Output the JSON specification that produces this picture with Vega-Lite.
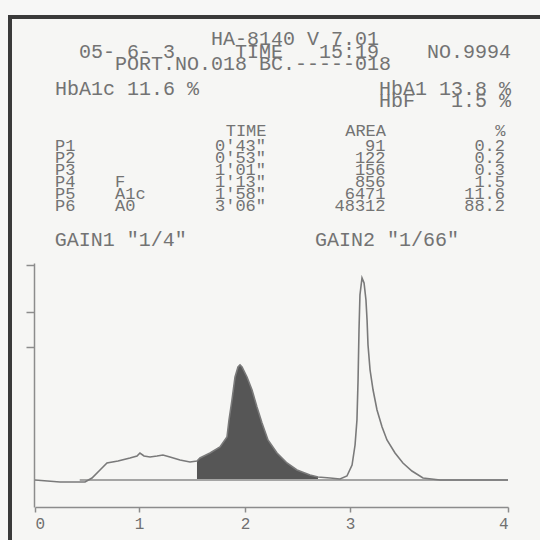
{
  "$schema": "https://vega.github.io/schema/vega-lite/v6.json",
  "width": 540,
  "height": 540,
  "autosize": {"type": "none"},
  "padding": {"left": 10, "top": 17, "right": 0, "bottom": 0},
  "background": "#f7f7f6",
  "config": {
    "view": {"stroke": "#3a3a3a", "strokeWidth": 4, "fill": "#f6f6f4"},
    "font": "Liberation Mono"
  },
  "title": {
    "text": [
      "\u200b\u00a0\u00a0\u00a0\u00a0\u00a0\u00a0\u00a0\u00a0\u00a0\u00a0\u00a0\u00a0\u00a0HA-8140 V 7.01\u00a0\u00a0\u00a0\u00a0\u00a0\u00a0\u00a0\u00a0\u00a0\u00a0\u00a0\u00a0\u200b",
      "\u200b\u00a0\u00a005- 6- 3\u00a0\u00a0\u00a0\u00a0\u00a0TIME\u00a0\u00a0\u00a015:19\u00a0\u00a0\u00a0\u00a0NO.9994\u00a0\u200b",
      "\u200b\u00a0\u00a0\u00a0\u00a0\u00a0PORT.NO.018 BC.-----018\u00a0\u00a0\u00a0\u00a0\u00a0\u00a0\u00a0\u00a0\u00a0\u00a0\u00a0\u200b"
    ],
    "subtitle": [
      "\u200bHbA1c 11.6 %\u00a0\u00a0\u00a0\u00a0\u00a0\u00a0\u00a0\u00a0\u00a0\u00a0\u00a0\u00a0\u00a0\u00a0\u00a0HbA1 13.8 %\u00a0\u200b",
      "\u200b\u00a0\u00a0\u00a0\u00a0\u00a0\u00a0\u00a0\u00a0\u00a0\u00a0\u00a0\u00a0\u00a0\u00a0\u00a0\u00a0\u00a0\u00a0\u00a0\u00a0\u00a0\u00a0\u00a0\u00a0\u00a0\u00a0\u00a0HbF\u00a0\u00a0\u00a01.5 %\u00a0\u200b"
    ],
    "anchor": "middle",
    "frame": "group",
    "dx": 9,
    "offset": -94,
    "font": "Liberation Mono",
    "fontSize": 20,
    "fontWeight": "normal",
    "color": "#737373",
    "lineHeight": 12.5,
    "subtitleFont": "Liberation Mono",
    "subtitleFontSize": 20,
    "subtitleColor": "#737373",
    "subtitleLineHeight": 12,
    "subtitlePadding": 5
  },
  "datasets": {
    "trace": [
      {"t": 0, "u": 27}, {"t": 0.24, "u": 25}, {"t": 0.481, "u": 25}, {"t": 0.548, "u": 29},
      {"t": 0.625, "u": 37}, {"t": 0.692, "u": 44}, {"t": 0.798, "u": 46}, {"t": 0.913, "u": 49},
      {"t": 0.981, "u": 51}, {"t": 1.009, "u": 54}, {"t": 1.047, "u": 51}, {"t": 1.104, "u": 50},
      {"t": 1.17, "u": 51}, {"t": 1.226, "u": 52}, {"t": 1.292, "u": 50}, {"t": 1.387, "u": 47},
      {"t": 1.481, "u": 45}, {"t": 1.547, "u": 46}, {"t": 1.575, "u": 49}, {"t": 1.67, "u": 54},
      {"t": 1.764, "u": 60}, {"t": 1.83, "u": 70}, {"t": 1.849, "u": 87}, {"t": 1.877, "u": 107},
      {"t": 1.906, "u": 130}, {"t": 1.934, "u": 140}, {"t": 1.953, "u": 142}, {"t": 1.972, "u": 140},
      {"t": 2.019, "u": 130}, {"t": 2.067, "u": 117}, {"t": 2.114, "u": 100}, {"t": 2.162, "u": 84},
      {"t": 2.219, "u": 67}, {"t": 2.305, "u": 54}, {"t": 2.4, "u": 44}, {"t": 2.495, "u": 37},
      {"t": 2.619, "u": 32}, {"t": 2.695, "u": 30}, {"t": 2.81, "u": 29}, {"t": 2.905, "u": 28},
      {"t": 2.971, "u": 31}, {"t": 3.013, "u": 42}, {"t": 3.032, "u": 62}, {"t": 3.044, "u": 87},
      {"t": 3.051, "u": 127}, {"t": 3.057, "u": 177}, {"t": 3.063, "u": 212}, {"t": 3.076, "u": 229},
      {"t": 3.089, "u": 224}, {"t": 3.101, "u": 207}, {"t": 3.108, "u": 187}, {"t": 3.114, "u": 162},
      {"t": 3.127, "u": 137}, {"t": 3.146, "u": 117}, {"t": 3.171, "u": 97}, {"t": 3.203, "u": 80},
      {"t": 3.234, "u": 67}, {"t": 3.285, "u": 54}, {"t": 3.335, "u": 44}, {"t": 3.392, "u": 36},
      {"t": 3.462, "u": 29}, {"t": 3.57, "u": 27}, {"t": 4, "u": 27}
    ],
    "peaks": [
      {"peak": "P1", "comp": "", "TIME": "0'43\"", "AREA": 91, "%": 0.2},
      {"peak": "P2", "comp": "", "TIME": "0'53\"", "AREA": 122, "%": 0.2},
      {"peak": "P3", "comp": "", "TIME": "1'01\"", "AREA": 156, "%": 0.3},
      {"peak": "P4", "comp": "F", "TIME": "1'13\"", "AREA": 856, "%": 1.5},
      {"peak": "P5", "comp": "A1c", "TIME": "1'58\"", "AREA": 6471, "%": 11.6},
      {"peak": "P6", "comp": "A0", "TIME": "3'06\"", "AREA": 48312, "%": 88.2}
    ],
    "gain": [
      {"label": "GAIN1 \"1/4\"", "t": 0.19},
      {"label": "GAIN2 \"1/66\"", "t": 2.667}
    ]
  },
  "resolve": {"scale": {"x": "independent", "y": "independent"}},
  "layer": [
    {
      "layer": [
        {
          "data": {"name": "trace"},
          "transform": [{"filter": "datum.t >= 1.54 && datum.t <= 2.7"}],
          "mark": {"type": "area", "color": "#565656", "opacity": 1},
          "encoding": {
            "x": {"field": "t", "type": "quantitative"},
            "y": {"field": "u", "type": "quantitative"},
            "y2": {"datum": 28}
          }
        },
        {
          "data": {"values": [{}]},
          "mark": {"type": "rule", "color": "#8a8a8a", "strokeWidth": 1.5},
          "encoding": {
            "x": {"datum": 0.43, "type": "quantitative"},
            "x2": {"datum": 4},
            "y": {"datum": 27, "type": "quantitative"}
          }
        },
        {
          "data": {"name": "trace"},
          "mark": {"type": "line", "color": "#7a7a7a", "strokeWidth": 1.6},
          "encoding": {
            "x": {
              "field": "t", "type": "quantitative",
              "scale": {"domain": [0, 1, 2, 3, 4], "range": [25, 129, 235, 340, 498], "nice": false, "zero": false},
              "axis": {
                "values": [0, 1, 2, 3, 4], "offset": -50, "title": null, "grid": false, "format": "d",
                "domainColor": "#8c8c8c", "domainWidth": 1.5, "tickColor": "#8c8c8c", "tickSize": 5, "tickWidth": 1.5,
                "labelFont": "Liberation Mono", "labelFontSize": 16, "labelColor": "#707070", "labelPadding": 3
              }
            },
            "y": {
              "field": "u", "type": "quantitative",
              "scale": {"domain": [0, 244], "range": [490, 246], "nice": false, "zero": false},
              "axis": {
                "values": [160, 195, 242], "offset": -24, "title": null, "grid": false, "labels": false,
                "domainColor": "#8c8c8c", "domainWidth": 1.5, "tickColor": "#8c8c8c", "tickSize": 8, "tickWidth": 1.5
              }
            }
          }
        },
        {
          "data": {"name": "gain"},
          "mark": {"type": "text", "align": "left", "baseline": "middle", "font": "Liberation Mono", "fontSize": 20, "color": "#737373"},
          "encoding": {
            "x": {"field": "t", "type": "quantitative"},
            "y": {"datum": 267, "type": "quantitative"},
            "text": {"field": "label"}
          }
        }
      ]
    },
    {
      "data": {"name": "peaks"},
      "transform": [{"fold": ["peak", "comp"], "as": ["column", "value"]}],
      "mark": {"type": "text", "align": "left", "baseline": "middle", "font": "Liberation Mono", "fontSize": 17, "color": "#737373"},
      "encoding": {
        "x": {"field": "column", "type": "nominal", "scale": {"type": "point", "domain": ["peak", "comp"], "range": [45, 105], "padding": 0}, "axis": null},
        "y": {"field": "peak", "type": "nominal", "scale": {"type": "point", "domain": ["P1", "P2", "P3", "P4", "P5", "P6"], "range": [129, 189], "padding": 0}, "axis": null},
        "text": {"field": "value", "type": "nominal"}
      }
    },
    {
      "data": {"name": "peaks"},
      "transform": [{"fold": ["TIME", "AREA", "%"], "as": ["column", "value"]}],
      "mark": {"type": "text", "align": "right", "baseline": "middle", "font": "Liberation Mono", "fontSize": 17, "color": "#737373"},
      "encoding": {
        "x": {
          "field": "column", "type": "nominal",
          "scale": {"type": "point", "domain": ["TIME", "AREA", "%"], "range": [256, 495], "padding": 0},
          "axis": {
            "orient": "top", "offset": -124, "title": null, "domain": false, "ticks": false, "labelAngle": 0,
            "labelAlign": "right", "labelOverlap": false, "labelFont": "Liberation Mono", "labelFontSize": 17,
            "labelColor": "#737373", "labelPadding": 2
          }
        },
        "y": {"field": "peak", "type": "nominal", "scale": {"type": "point", "domain": ["P1", "P2", "P3", "P4", "P5", "P6"], "range": [129, 189], "padding": 0}, "axis": null},
        "text": {"field": "value", "type": "nominal"}
      }
    }
  ]
}
